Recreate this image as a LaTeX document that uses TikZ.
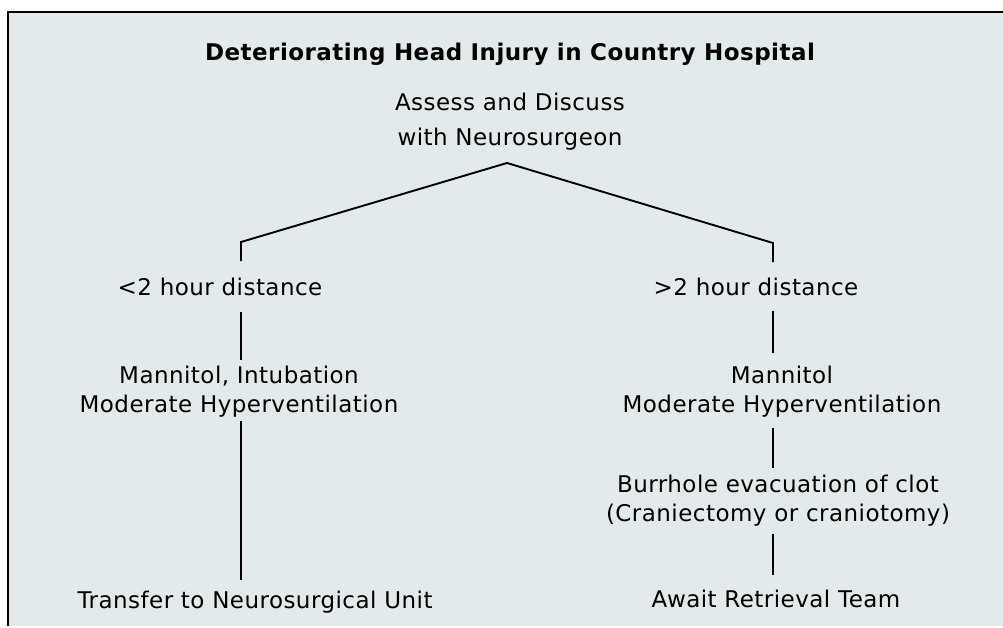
\documentclass[tikz,border=0pt]{standalone}
\usepackage{fontspec}
\setmainfont[LetterSpace=2]{DejaVu Sans}
\definecolor{panelbg}{RGB}{226,234,236}
\begin{document}
\begin{tikzpicture}[x=1pt, y=-1pt,
    txt/.style={anchor=north, inner sep=0pt, align=center, font=\fontsize{23}{29}\selectfont},
    link/.style={line width=1.9pt}]
    \useasboundingbox (0,0) rectangle (1003,627);
    \fill[panelbg] (8,12) rectangle (1003,626);
    \draw[line width=2pt] (8,626) -- (8,12) -- (1003,12);

    \node[txt, font=\bfseries\fontsize{23}{29}\selectfont] (title) at (510,43) {Deteriorating Head Injury in Country Hospital};
    \node[txt, font=\fontsize{23}{35}\selectfont] (assess) at (510,93) {Assess and Discuss\\with Neurosurgeon};
    \node[txt] (near) at (220,278) {<2 hour distance};
    \node[txt] (far) at (756,278) {>2 hour distance};
    \node[txt] (nearmed) at (239,366) {Mannitol, Intubation\\Moderate Hyperventilation};
    \node[txt] (farmed) at (782,366) {Mannitol\\Moderate Hyperventilation};
    \node[txt] (burr) at (778,475) {Burrhole evacuation of clot\\(Craniectomy or craniotomy)};
    \node[txt] (transfer) at (255,591) {Transfer to Neurosurgical Unit};
    \node[txt] (await) at (776,590) {Await Retrieval Team};

    \coordinate (split) at (507,163);
    \coordinate (nearturn) at (241,242);
    \coordinate (farturn) at (773,243);

    \draw[link, shorten >=17pt] (split) -- (nearturn) -- (nearturn |- near.north);
    \draw[link, shorten >=16pt] (split) -- (farturn) -- (farturn |- far.north);
    \draw[link, shorten <=16pt, shorten >=6pt] (near.south -| nearturn) -- (nearmed.north -| nearturn);
    \draw[link, shorten <=3pt, shorten >=11pt] (nearmed.south -| nearturn) -- (transfer.north -| nearturn);
    \draw[link, shorten <=15pt, shorten >=13pt] (far.south -| farturn) -- (farmed.north -| farturn);
    \draw[link, shorten <=10pt, shorten >=7pt] (farmed.south -| farturn) -- (burr.north -| farturn);
    \draw[link, shorten <=7pt, shorten >=15pt] (burr.south -| farturn) -- (await.north -| farturn);
\end{tikzpicture}
\end{document}
